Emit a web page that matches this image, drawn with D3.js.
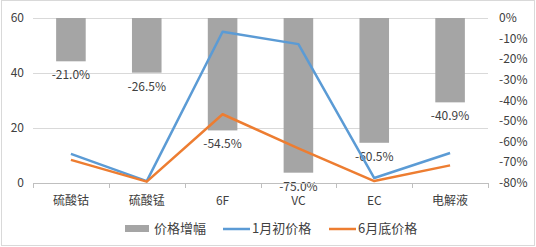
<!DOCTYPE html>
<html>
<head>
<meta charset="utf-8">
<script src="https://cdn.jsdelivr.net/npm/d3@7"></script>
<style>
  body { margin: 0; background: #fff; }
  svg { display: block; font-family: SimSun, "Noto Sans CJK SC", sans-serif; }
</style>
</head>
<body>
<div id="chart"></div>
<script>
var categories = ["硫酸钴", "硫酸锰", "6F", "VC", "EC", "电解液"];
var priceChange = [-21.0, -26.5, -54.5, -75.0, -60.5, -40.9]; // %
var priceJan = [10.6, 0.7, 55, 50.5, 1.8, 10.9];
var priceJun = [8.4, 0.5, 25, 12.6, 0.7, 6.4];
var leftTicks = [0, 20, 40, 60];
var rightTicks = [0, -10, -20, -30, -40, -50, -60, -70, -80];

var width = 536, height = 247;
var plot = {left: 33, right: 488, top: 18, bottom: 183};

var svg = d3.select("#chart").append("svg")
    .attr("width", width)
    .attr("height", height);

// outer frame
svg.append("rect")
    .attr("x", 1.5).attr("y", 0.5)
    .attr("width", width - 3).attr("height", height - 2)
    .attr("fill", "#fff").attr("stroke", "#d9d9d9");

var x = d3.scaleBand()
    .domain(categories)
    .range([plot.left, plot.right]);

var yL = d3.scaleLinear().domain([0, 60]).range([plot.bottom, plot.top]);
var yR = d3.scaleLinear().domain([-80, 0]).range([plot.bottom, plot.top]);

var barW = x.step() * 0.39;
var cx = function(d) { return x(d) + x.bandwidth() / 2; };

// gridlines
svg.append("g").selectAll("line")
    .data(leftTicks.slice(1))
    .enter().append("line")
    .attr("x1", plot.left).attr("x2", plot.right)
    .attr("y1", function(d) { return Math.round(yL(d)) + 0.5; })
    .attr("y2", function(d) { return Math.round(yL(d)) + 0.5; })
    .attr("stroke", "#d9d9d9");

// bars
svg.append("g").selectAll("rect")
    .data(categories)
    .enter().append("rect")
    .attr("x", function(d) { return cx(d) - barW / 2; })
    .attr("y", yR(0))
    .attr("width", barW)
    .attr("height", function(d, i) { return yR(priceChange[i]) - yR(0); })
    .attr("fill", "#a5a5a5");

// bar labels
svg.append("g").selectAll("text")
    .data(categories)
    .enter().append("text")
    .attr("x", function(d) { return cx(d); })
    .attr("y", function(d, i) { return yR(priceChange[i]) + 18; })
    .attr("text-anchor", "middle")
    .attr("font-size", 12)
    .attr("fill", "#404040")
    .text(function(d, i) { return priceChange[i].toFixed(1) + "%"; });

// x axis
var xAxis = svg.append("g");
xAxis.append("line")
    .attr("x1", plot.left).attr("x2", plot.right)
    .attr("y1", plot.bottom + 0.5).attr("y2", plot.bottom + 0.5)
    .attr("stroke", "#bfbfbf");
xAxis.selectAll(".tick")
    .data(d3.range(categories.length + 1))
    .enter().append("line")
    .attr("x1", function(i) { return Math.round(plot.left + i * x.step()) + 0.5; })
    .attr("x2", function(i) { return Math.round(plot.left + i * x.step()) + 0.5; })
    .attr("y1", plot.bottom).attr("y2", plot.bottom + 5)
    .attr("stroke", "#bfbfbf");
xAxis.selectAll("text")
    .data(categories)
    .enter().append("text")
    .attr("x", function(d) { return cx(d); })
    .attr("y", 205)
    .attr("text-anchor", "middle")
    .attr("font-size", 12)
    .attr("fill", "#404040")
    .text(function(d) { return d; });

// left axis labels
svg.append("g").selectAll("text")
    .data(leftTicks)
    .enter().append("text")
    .attr("x", 24)
    .attr("y", function(d) { return yL(d) + 4; })
    .attr("text-anchor", "end")
    .attr("font-size", 12)
    .attr("fill", "#404040")
    .text(function(d) { return d; });

// right axis labels
svg.append("g").selectAll("text")
    .data(rightTicks)
    .enter().append("text")
    .attr("x", 499)
    .attr("y", function(d) { return yR(d) + 4; })
    .attr("font-size", 12)
    .attr("fill", "#404040")
    .text(function(d) { return d + "%"; });

// lines
var line = d3.line()
    .x(function(d) { return cx(d[0]); })
    .y(function(d) { return yL(d[1]); });

svg.append("path")
    .datum(d3.zip(categories, priceJan))
    .attr("d", line)
    .attr("fill", "none")
    .attr("stroke", "#5b9bd5")
    .attr("stroke-width", 2.5)
    .attr("stroke-linejoin", "round");

svg.append("path")
    .datum(d3.zip(categories, priceJun))
    .attr("d", line)
    .attr("fill", "none")
    .attr("stroke", "#ed7d31")
    .attr("stroke-width", 2.5)
    .attr("stroke-linejoin", "round");

// legend
var lg = svg.append("g").attr("font-size", 13).attr("fill", "#404040");
lg.append("rect").attr("x", 125).attr("y", 225).attr("width", 24).attr("height", 7).attr("fill", "#a5a5a5");
lg.append("text").attr("x", 154).attr("y", 233).text("价格增幅");
lg.append("line").attr("x1", 223).attr("x2", 250).attr("y1", 229).attr("y2", 229)
    .attr("stroke", "#5b9bd5").attr("stroke-width", 2.5);
lg.append("text").attr("x", 252).attr("y", 233).text("1月初价格");
lg.append("line").attr("x1", 329).attr("x2", 356).attr("y1", 229).attr("y2", 229)
    .attr("stroke", "#ed7d31").attr("stroke-width", 2.5);
lg.append("text").attr("x", 358).attr("y", 233).text("6月底价格");
</script>
</body>
</html>
